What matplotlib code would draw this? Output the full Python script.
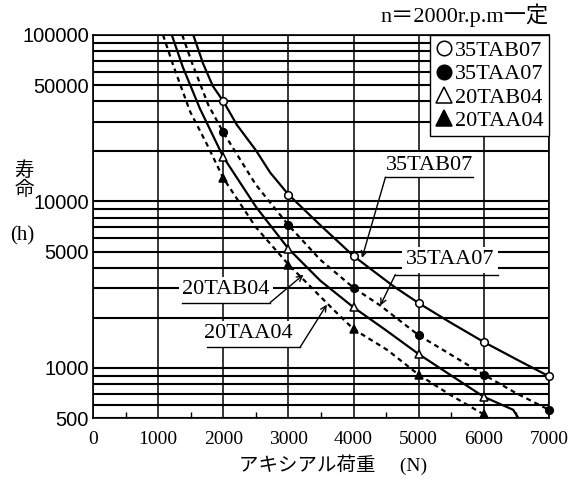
#!/usr/bin/env python3
# -*- coding: utf-8 -*-

from typing import List

import matplotlib

matplotlib.use("Agg")
import matplotlib.pyplot as plot
from matplotlib.ticker import FixedLocator, LogLocator, MultipleLocator, NullFormatter

SERIF = ["Liberation Serif", "Noto Sans CJK JP"]
NARROW = ["Liberation Sans Narrow", "Liberation Sans", "DejaVu Sans"]
CJK = ["Noto Sans CJK JP", "DejaVu Sans"]

# axial load (N) where the test points sit
mark_load = [2000, 3000, 4000, 5000, 6000, 7000]

# life (h) read at the marked points
tab07_mark = [40000, 11000, 4700, 2450, 1430, 890]
taa07_mark = [26000, 7200, 3030, 1570, 910, 560]
tab04_mark = [18500, 5200, 2310, 1210, 670]
taa04_mark = [13800, 4180, 1710, 910, 525]

# curves
tab07_load = [1540, 1690, 1840, 2000, 2210, 2500, 2720, 3000, 3490, 4000, 4610, 5000, 5480, 6000, 6510, 7000]
tab07_life = [100000, 67300, 49300, 40000, 28800, 20300, 14900, 11000, 7200, 4700, 3100, 2450, 1880, 1430, 1120, 890]

taa07_load = [1370, 1520, 1770, 2000, 2500, 3000, 3490, 4000, 4410, 5000, 5480, 6000, 6510, 7000]
taa07_life = [100000, 68000, 38000, 26000, 12600, 7200, 4460, 3030, 2370, 1570, 1210, 910, 700, 560]

tab04_load = [1210, 1380, 1640, 2000, 2500, 3000, 3490, 4000, 4500, 5000, 5480, 6000, 6450, 6530]
tab04_life = [100000, 64000, 36200, 18500, 9300, 5200, 3340, 2310, 1680, 1210, 910, 670, 560, 500]

taa04_load = [1075, 1230, 1490, 1750, 2000, 2500, 3000, 3690, 4000, 4520, 5000, 5480, 6000, 6030]
taa04_life = [100000, 66000, 34700, 22000, 13800, 7000, 4180, 2240, 1710, 1280, 910, 690, 525, 500]

names = ["35TAB07", "35TAA07", "20TAB04", "20TAA04"]
y_ticks = [500, 1000, 5000, 10000, 50000, 100000]
x_ticks = [0, 1000, 2000, 3000, 4000, 5000, 6000, 7000]


def draw_series(ax, load: List[int], life: List[int], marks: List[int],
                dashed: bool, marker: str, filled: bool, label: str) -> None:
    style = (0, (2.2, 1.8)) if dashed else "-"
    ax.plot(load, life, color="black", lw=1.6, linestyle=style, zorder=3)
    ax.plot(mark_load[:len(marks)], marks, linestyle="none", marker=marker,
            ms=5.5 if marker == "o" else 6, mec="black", mew=1.1,
            mfc="black" if filled else "white", label=label, zorder=4,
            clip_on=False)


def callout(ax, text, center, underline, start, tip) -> None:
    ax.text(center[0], center[1], text, ha="center", va="center",
            fontsize=16, family=SERIF, zorder=5,
            bbox=dict(boxstyle="square,pad=0.15", fc="white", ec="none"))
    ax.plot(underline[0], [underline[1]] * 2, color="black", lw=1.0, zorder=6)
    ax.annotate("", xy=tip, xytext=start, zorder=6,
                arrowprops=dict(arrowstyle="->", color="black", lw=1.0,
                                shrinkA=0, shrinkB=0))


def visualize(filename: str) -> None:
    fig = plot.figure(figsize=(5.72, 4.80), dpi=100)
    ax = fig.add_axes([93 / 572, 1 - 418 / 480, 456 / 572, 383 / 480])

    ax.set_yscale("log")
    ax.set_xlim(0, 7000)
    ax.set_ylim(500, 100000)

    draw_series(ax, tab07_load, tab07_life, tab07_mark, False, "o", False, names[0])
    draw_series(ax, taa07_load, taa07_life, taa07_mark, True, "o", True, names[1])
    draw_series(ax, tab04_load, tab04_life, tab04_mark, False, "^", False, names[2])
    draw_series(ax, taa04_load, taa04_life, taa04_mark, True, "^", True, names[3])

    ax.yaxis.set_major_locator(FixedLocator(y_ticks))
    ax.yaxis.set_major_formatter(matplotlib.ticker.FuncFormatter(lambda v, _: f"{int(v)}"))
    ax.yaxis.set_minor_locator(LogLocator(base=10, subs=range(1, 10)))
    ax.yaxis.set_minor_formatter(NullFormatter())
    ax.xaxis.set_major_locator(FixedLocator(x_ticks))
    ax.xaxis.set_minor_locator(MultipleLocator(500))

    ax.set_axisbelow(True)
    ax.grid(which="both", axis="y", color="black", lw=1.5)
    ax.grid(which="major", axis="x", color="black", lw=1.1)

    ax.tick_params(axis="y", which="both", length=0, pad=3)
    ax.tick_params(axis="x", which="major", length=0, pad=9)
    ax.tick_params(axis="x", which="minor", direction="in", length=4, width=1)
    for lab in ax.get_xticklabels():
        lab.set_family(SERIF)
        lab.set_fontsize(14)
    for lab in ax.get_yticklabels():
        lab.set_family(NARROW)
        lab.set_fontsize(14.5)
    for spine in ax.spines.values():
        spine.set_linewidth(1.2)

    leg = ax.legend(loc="upper right", borderaxespad=0, fancybox=False,
                    edgecolor="black", framealpha=1, markerscale=1.9,
                    handlelength=0.7, handletextpad=0.15, labelspacing=0.12,
                    borderpad=0.25, prop=dict(family=SERIF, size=16))
    leg.get_frame().set_linewidth(1.0)

    callout(ax, names[0], (5160, 16500), ([4490, 5840], 14000), (4490, 14000), (4130, 4580))
    callout(ax, names[1], (5480, 4460), ([4640, 6220], 3630), (4640, 3630), (4410, 2370))
    callout(ax, names[2], (2040, 2950), ([1370, 2720], 2470), (2720, 2470), (3230, 3630))
    callout(ax, names[3], (2390, 1600), ([1750, 3180], 1333), (3180, 1333), (3590, 2400))

    ax.text(1.0, 1.02, "n＝2000r.p.m一定", transform=ax.transAxes, ha="right",
            va="bottom", fontsize=16, family=SERIF)

    ax.set_xlabel("アキシアル荷重　 (N)", family=SERIF, fontsize=14)
    ax.xaxis.set_label_coords(240 / 456, -47 / 383)
    ax.xaxis.label.set_va("center")

    fig.text(24 / 572, 1 - 171 / 480, "寿", family=CJK, fontsize=14, ha="center", va="center")
    fig.text(24 / 572, 1 - 190 / 480, "命", family=CJK, fontsize=14, ha="center", va="center")
    fig.text(22 / 572, 1 - 236 / 480, "(h)", family=SERIF, fontsize=15, ha="center", va="center")

    fig.savefig(filename, dpi=100)


if __name__ == "__main__":
    visualize("out.png")
